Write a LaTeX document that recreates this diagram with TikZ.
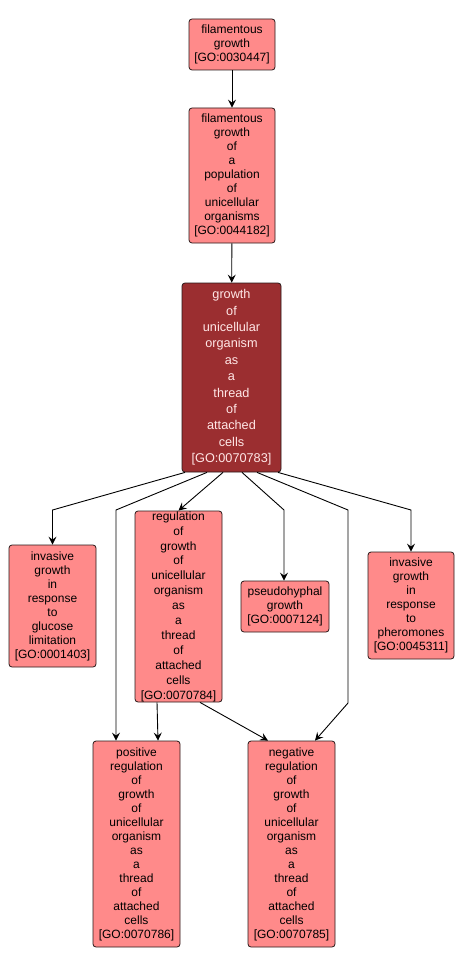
\documentclass[tikz,border=0pt]{standalone}
\usepackage{fontspec}
\setmainfont{Liberation Sans}
\usetikzlibrary{arrows.meta}
\definecolor{nodefill}{RGB}{255,138,138}
\definecolor{darkfill}{RGB}{155,46,48}
\definecolor{lighttext}{RGB}{255,230,230}
\definecolor{boxline}{RGB}{40,25,25}
\begin{document}
\begin{tikzpicture}[x=1pt,y=-1pt,
  gobox/.style={draw=boxline, line width=0.8pt, rounded corners=3pt, fill=nodefill,
    align=center, inner sep=0pt, font=\fontsize{12}{14}\selectfont},
  darkbox/.style={gobox, fill=darkfill, text=lighttext, font=\fontsize{12.7}{16.4}\selectfont},
  edge/.style={draw=black, line width=0.9pt, -{Stealth[length=8pt,width=8pt,inset=3pt]}}
]
\useasboundingbox (0,0) rectangle (465,968);
\fill[white] (0,0) rectangle (465,968);

\node[gobox, minimum width=86pt, minimum height=51pt, text width=84pt] (n1) at (232,44.5)
  {filamentous\\growth\\{[}GO:0030447{]}};
\node[gobox, minimum width=86pt, minimum height=135pt, text width=84pt] (n2) at (232,175.5)
  {filamentous\\growth\\of\\a\\population\\of\\unicellular\\organisms\\{[}GO:0044182{]}};
\node[darkbox, minimum width=99pt, minimum height=189pt, text width=97pt] (n3) at (231.5,377.5)
  {growth\\of\\unicellular\\organism\\as\\a\\thread\\of\\attached\\cells\\{[}GO:0070783{]}};
\node[gobox, minimum width=87pt, minimum height=122pt, text width=85pt] (n4) at (52.5,606)
  {invasive\\growth\\in\\response\\to\\glucose\\limitation\\{[}GO:0001403{]}};
\node[gobox, minimum width=87pt, minimum height=191pt, text width=85pt, font=\fontsize{12}{14.9}\selectfont] (n5) at (178.5,606.5)
  {regulation\\of\\growth\\of\\unicellular\\organism\\as\\a\\thread\\of\\attached\\cells\\{[}GO:0070784{]}};
\node[gobox, minimum width=88pt, minimum height=51pt, text width=86pt] (n6) at (285,606.5)
  {pseudohyphal\\growth\\{[}GO:0007124{]}};
\node[gobox, minimum width=86pt, minimum height=107pt, text width=84pt] (n7) at (411,605.5)
  {invasive\\growth\\in\\response\\to\\pheromones\\{[}GO:0045311{]}};
\node[gobox, minimum width=87pt, minimum height=206pt, text width=85pt] (n8) at (136.5,844)
  {positive\\regulation\\of\\growth\\of\\unicellular\\organism\\as\\a\\thread\\of\\attached\\cells\\{[}GO:0070786{]}};
\node[gobox, minimum width=87pt, minimum height=206pt, text width=85pt] (n9) at (291.5,844)
  {negative\\regulation\\of\\growth\\of\\unicellular\\organism\\as\\a\\thread\\of\\attached\\cells\\{[}GO:0070785{]}};

\coordinate (b4) at (52.5,510);
\coordinate (b8) at (116,510);
\coordinate (b6) at (284,510);
\coordinate (b9a) at (348,510);
\coordinate (b9b) at (348,703);
\coordinate (b7) at (411,510);

\draw[edge] (n1) -- (n2);
\draw[edge] (n2) -- (n3);
\draw[edge] ([xshift=-46.5pt]n3.south) -- (b4) -- (n4.north);
\draw[edge] ([xshift=-24.5pt]n3.south) -- (b8) -- ([xshift=-20.5pt]n8.north);
\draw[edge] ([xshift=-8.5pt]n3.south) -- (n5.north);
\draw[edge] ([xshift=10.5pt]n3.south) -- (b6) -- ([xshift=-1pt]n6.north);
\draw[edge] ([xshift=25.5pt]n3.south) -- (b9a) -- (b9b) -- ([xshift=23.5pt]n9.north);
\draw[edge] ([xshift=46.5pt]n3.south) -- (b7) -- (n7.north);
\draw[edge] ([xshift=-21.5pt]n5.south) -- ([xshift=21.5pt]n8.north);
\draw[edge] ([xshift=21.5pt]n5.south) -- ([xshift=-23.5pt]n9.north);
\end{tikzpicture}
\end{document}
